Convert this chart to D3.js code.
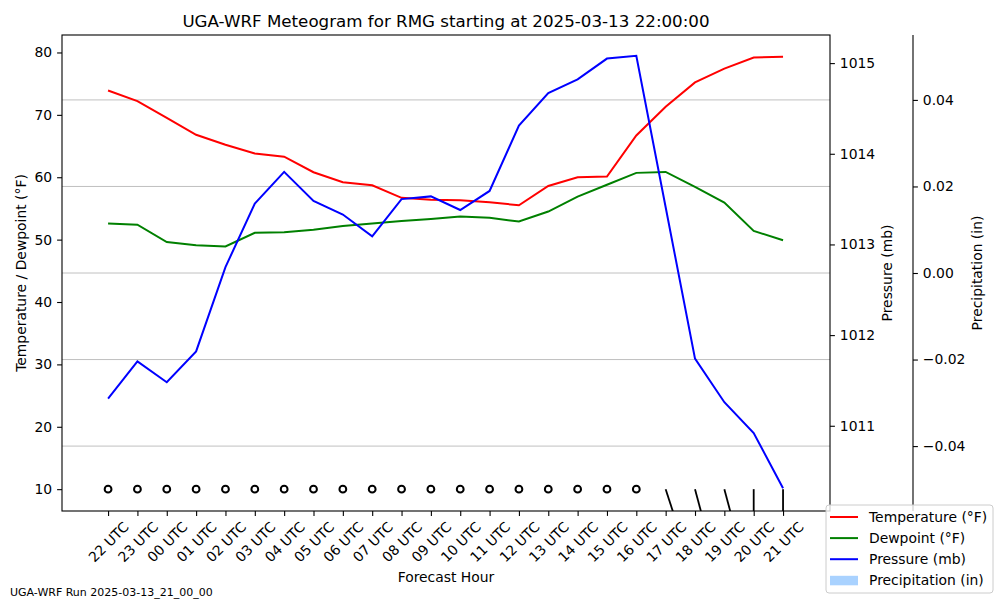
<!DOCTYPE html>
<html>
<head>
<meta charset="utf-8">
<script src="https://cdn.jsdelivr.net/npm/d3@7"></script>
<style>
  body { margin: 0; background: #fff; }
  svg text { font-family: "DejaVu Sans", sans-serif; fill: #000; }
</style>
</head>
<body>
<script>
// forecast hours (x categories)
let hours = ["22 UTC", "23 UTC", "00 UTC", "01 UTC", "02 UTC", "03 UTC", "04 UTC", "05 UTC",
    "06 UTC", "07 UTC", "08 UTC", "09 UTC", "10 UTC", "11 UTC", "12 UTC", "13 UTC",
    "14 UTC", "15 UTC", "16 UTC", "17 UTC", "18 UTC", "19 UTC", "20 UTC", "21 UTC"];

let temperature = [73.9, 72.2, 69.5, 66.8, 65.2, 63.8, 63.3, 60.8, 59.2, 58.7, 56.7, 56.4,
    56.3, 56.0, 55.5, 58.6, 60.0, 60.1, 66.7, 71.3, 75.2, 77.4, 79.2, 79.3];

let dewpoint = [52.6, 52.4, 49.6, 49.1, 48.9, 51.1, 51.2, 51.6, 52.2, 52.6, 53.0, 53.3,
    53.7, 53.5, 52.9, 54.5, 56.9, 58.8, 60.7, 60.85, 58.45, 55.95, 51.4, 49.9];

let pressure = [1011.30, 1011.71, 1011.48, 1011.82, 1012.75, 1013.45, 1013.80, 1013.48,
    1013.33, 1013.09, 1013.50, 1013.53, 1013.38, 1013.59, 1014.31, 1014.67,
    1014.82, 1015.05, 1015.08, 1013.41, 1011.74, 1011.26, 1010.92, 1010.31];

let precipitation = [0, 0, 0, 0, 0, 0, 0, 0, 0, 0, 0, 0, 0, 0, 0, 0, 0, 0, 0, 0, 0, 0, 0, 0];

// wind (knots, direction from) - drawn as barbs along the 10 line
let windSpeed = [0, 0, 0, 0, 0, 0, 0, 0, 0, 0, 0, 0, 0, 0, 0, 0, 0, 0, 0, 5, 5, 5, 5, 5];
let windDir = [0, 0, 0, 0, 0, 0, 0, 0, 0, 0, 0, 0, 0, 0, 0, 0, 0, 0, 0, 162, 165, 165, 180, 180];
let barbLevel = 10;

let tempTicks = [10, 20, 30, 40, 50, 60, 70, 80];
let pressTicks = [1011, 1012, 1013, 1014, 1015];
let precipTicks = [-0.04, -0.02, 0, 0.02, 0.04];

let w = 1000, h = 600;
let mLeft = 62, mRight = 830, mTop = 35, mBottom = 511;
let precipSpine = 913;
let fs = 13.9;

let svg = d3.select("body").append("svg")
    .attr("width", w)
    .attr("height", h);

let x = d3.scaleLinear().domain([-1.57, 24.6]).range([mLeft, mRight]);
let yT = d3.scaleLinear().domain([6.5, 82.8]).range([mBottom, mTop]);
let yP = d3.scaleLinear().domain([1010.06, 1015.31]).range([mBottom, mTop]);
let yR = d3.scaleLinear().domain([-0.055, 0.055]).range([mBottom, mTop]);

svg.append("clipPath").attr("id", "plotclip")
    .append("rect")
    .attr("x", mLeft).attr("y", mTop)
    .attr("width", mRight - mLeft).attr("height", mBottom - mTop);

let plot = svg.append("g").attr("clip-path", "url(#plotclip)");

// grid comes from the precipitation axis
plot.selectAll(".grid").data(precipTicks).enter().append("line")
    .attr("x1", mLeft).attr("x2", mRight)
    .attr("y1", d => yR(d)).attr("y2", d => yR(d))
    .attr("stroke", "#b0b0b0")
    .attr("stroke-width", 0.8);

// precipitation bars (all zero here)
plot.selectAll(".bar").data(precipitation).enter().append("rect")
    .attr("x", (d, i) => x(i - 0.4))
    .attr("width", x(0.8) - x(0))
    .attr("y", d => Math.min(yR(d), yR(0)))
    .attr("height", d => Math.abs(yR(d) - yR(0)))
    .attr("fill", "#a9d2ff");

let lineOf = (scale) => d3.line().x((d, i) => x(i)).y(d => scale(d));

plot.append("path").datum(temperature)
    .attr("d", lineOf(yT))
    .attr("fill", "none").attr("stroke", "#ff0000").attr("stroke-width", 2);

plot.append("path").datum(dewpoint)
    .attr("d", lineOf(yT))
    .attr("fill", "none").attr("stroke", "#008000").attr("stroke-width", 2);

// wind barbs
windSpeed.forEach((s, i) => {
    let cx = x(i), cy = yT(barbLevel);
    if (s == 0) {
        plot.append("circle")
            .attr("cx", cx).attr("cy", cy).attr("r", 3.4)
            .attr("fill", "none").attr("stroke", "#000").attr("stroke-width", 2);
        return;
    }
    let a = windDir[i] * Math.PI / 180;
    let len = 26;
    let ux = Math.sin(a), uy = -Math.cos(a);
    let tx = cx + ux * len, ty = cy + uy * len;
    plot.append("line")
        .attr("x1", cx).attr("y1", cy).attr("x2", tx).attr("y2", ty)
        .attr("stroke", "#000").attr("stroke-width", 1.8);
    // half barb near the tip
    let bx = cx + ux * (len - 3), by = cy + uy * (len - 3);
    plot.append("line")
        .attr("x1", bx).attr("y1", by)
        .attr("x2", bx - uy * 5 + ux * 2).attr("y2", by + ux * 5 + uy * 2)
        .attr("stroke", "#000").attr("stroke-width", 1.6);
});

plot.append("path").datum(pressure)
    .attr("d", lineOf(yP))
    .attr("fill", "none").attr("stroke", "#0000ff").attr("stroke-width", 2);

// frame
svg.append("rect")
    .attr("x", mLeft).attr("y", mTop)
    .attr("width", mRight - mLeft).attr("height", mBottom - mTop)
    .attr("fill", "none").attr("stroke", "#000").attr("stroke-width", 1.1);

svg.append("line")
    .attr("x1", precipSpine).attr("x2", precipSpine)
    .attr("y1", mTop).attr("y2", mBottom)
    .attr("stroke", "#000").attr("stroke-width", 1.1);

let styleAxis = g => {
    g.select(".domain").remove();
    g.selectAll(".tick line").attr("stroke", "#000").attr("stroke-width", 1.1);
    g.selectAll(".tick text").attr("font-size", fs).attr("font-family", "DejaVu Sans");
};

svg.append("g").attr("transform", `translate(${mLeft},0)`)
    .call(d3.axisLeft(yT).tickValues(tempTicks).tickSize(4.9).tickPadding(4.9))
    .call(styleAxis);

svg.append("g").attr("transform", `translate(${mRight},0)`)
    .call(d3.axisRight(yP).tickValues(pressTicks).tickSize(4.9).tickPadding(4.9).tickFormat(d3.format("d")))
    .call(styleAxis);

svg.append("g").attr("transform", `translate(${precipSpine},0)`)
    .call(d3.axisRight(yR).tickValues(precipTicks).tickSize(4.9).tickPadding(4.9).tickFormat(d3.format(".2f")))
    .call(styleAxis);

let xAxis = svg.append("g").attr("transform", `translate(0,${mBottom})`)
    .call(d3.axisBottom(x).tickValues(d3.range(hours.length)).tickSize(4.9).tickFormat(i => hours[i]))
    .call(styleAxis);

xAxis.selectAll(".tick text")
    .attr("text-anchor", "middle")
    .attr("dy", null)
    .attr("y", null)
    .attr("dominant-baseline", "central")
    .attr("transform", "translate(0,31) rotate(-45)");

// labels
svg.append("text")
    .attr("x", (mLeft + mRight) / 2).attr("y", 27)
    .attr("text-anchor", "middle")
    .attr("font-size", 16.7)
    .text("UGA-WRF Meteogram for RMG starting at 2025-03-13 22:00:00");

svg.append("text")
    .attr("x", (mLeft + mRight) / 2).attr("y", 582)
    .attr("text-anchor", "middle")
    .attr("font-size", fs)
    .text("Forecast Hour");

let yLabel = (cx, txt) => {
    svg.append("text")
        .attr("transform", `translate(${cx},${(mTop + mBottom) / 2}) rotate(-90)`)
        .attr("text-anchor", "middle")
        .attr("dominant-baseline", "central")
        .attr("font-size", fs)
        .text(txt);
};
yLabel(21, "Temperature / Dewpoint (°F)");
yLabel(887, "Pressure (mb)");
yLabel(977, "Precipitation (in)");

svg.append("text")
    .attr("x", 10).attr("y", 596)
    .attr("font-size", 11)
    .text("UGA-WRF Run 2025-03-13_21_00_00");

// legend
let legendItems = [
    { name: "Temperature (°F)", color: "#ff0000", type: "line" },
    { name: "Dewpoint (°F)", color: "#008000", type: "line" },
    { name: "Pressure (mb)", color: "#0000ff", type: "line" },
    { name: "Precipitation (in)", color: "#a9d2ff", type: "patch" }
];

let legend = svg.append("g");
legend.append("rect")
    .attr("x", 826).attr("y", 505)
    .attr("width", 167).attr("height", 88)
    .attr("rx", 3)
    .attr("fill", "#fff").attr("fill-opacity", 0.8)
    .attr("stroke", "#cccccc").attr("stroke-width", 1);

legendItems.forEach((item, i) => {
    let ly = 517 + i * 21.1;
    if (item.type == "line") {
        legend.append("line")
            .attr("x1", 830).attr("x2", 858)
            .attr("y1", ly).attr("y2", ly)
            .attr("stroke", item.color).attr("stroke-width", 2);
    } else {
        legend.append("rect")
            .attr("x", 830).attr("y", ly - 4.5)
            .attr("width", 28).attr("height", 9.5)
            .attr("fill", item.color);
    }
    legend.append("text")
        .attr("x", 869).attr("y", ly)
        .attr("dominant-baseline", "central")
        .attr("font-size", fs)
        .text(item.name);
});
</script>
</body>
</html>
